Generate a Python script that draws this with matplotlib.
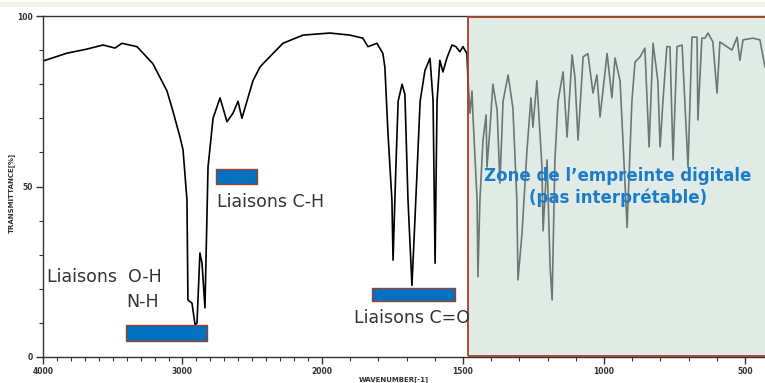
import numpy as np
import matplotlib
matplotlib.use("Agg")
import matplotlib.pyplot as plt
from matplotlib.patches import Rectangle

# IR spectrum: wavenumber (cm-1) and transmittance (%)
wavenumber = [4000, 3828, 3685, 3570, 3484, 3434, 3326, 3212, 3111, 3068, 3018, 2996,
              2968, 2961, 2932, 2910, 2896, 2875, 2860, 2839, 2817, 2781, 2731, 2681,
              2638, 2602, 2574, 2538, 2495, 2445, 2423, 2280, 2136, 1972, 1901, 1855,
              1837, 1805, 1784, 1777, 1766, 1752, 1748, 1738, 1730, 1716, 1706, 1695,
              1681, 1670, 1652, 1635, 1617, 1606, 1599, 1592, 1582, 1571, 1557, 1539,
              1525, 1511, 1500, 1486, 1482, 1475, 1468, 1465, 1450, 1447, 1440, 1429,
              1418, 1415, 1404, 1394, 1379, 1369, 1358, 1340, 1323, 1309, 1305, 1291,
              1273, 1259, 1252, 1238, 1220, 1216, 1202, 1191, 1184, 1174, 1163, 1145,
              1131, 1113, 1103, 1092, 1074, 1057, 1039, 1025, 1014, 989, 972, 961,
              943, 918, 901, 890, 872, 855, 840, 826, 809, 801, 791, 777, 766, 755,
              741, 723, 702, 688, 670, 667, 653, 642, 631, 614, 599, 589, 564, 546,
              528, 518, 507, 472, 447, 429]
transmittance = [86.8, 89.1, 90.3, 91.5, 90.6, 92.0, 91.0, 86.0, 78.0, 72.0, 64.5, 60.7,
                 46.0, 16.7, 15.8, 9.4, 10.0, 30.5, 27.5, 14.4, 55.7, 70.0, 76.0, 69.0,
                 71.5, 75.0, 70.0, 75.0, 81.0, 85.0, 86.0, 92.0, 94.4, 95.0, 94.4, 93.5,
                 91.0, 92.0, 89.0, 85.0, 65.6, 46.0, 28.4, 55.7, 75.0, 80.0, 77.0, 46.0,
                 21.0, 41.0, 75.0, 84.0, 87.6, 75.0, 27.5, 75.0, 87.0, 83.6, 87.7, 91.5,
                 91.0, 89.5, 91.0, 89.0, 81.0, 71.5, 78.0, 71.5, 46.0, 23.5, 46.0, 63.6,
                 71.0, 55.7, 67.4, 80.0, 72.4, 51.0, 75.0, 82.7, 73.0, 46.0, 22.6, 36.0,
                 60.7, 76.0, 67.4, 81.0, 55.7, 37.0, 57.8, 26.4, 16.7, 57.8, 75.0, 83.6,
                 64.5, 88.6, 82.0, 63.6, 88.0, 89.0, 77.4, 82.7, 70.4, 89.0, 76.0, 87.7,
                 81.0, 38.0, 75.0, 86.5, 88.0, 90.6, 61.6, 92.0, 81.0, 61.6, 75.0, 91.0,
                 91.0, 57.8, 91.0, 91.5, 55.7, 93.8, 93.8, 69.5, 93.5, 93.5, 95.0, 92.4,
                 77.4, 92.4, 91.0, 90.0, 93.8, 87.0, 93.0, 93.5, 93.0, 85.0]

# Absorption bands: (wn_high, wn_low, T_low, T_high)
band_oh = (3405, 2824, 4.7, 9.4)
band_ch = (2760, 2466, 50.7, 55.1)
band_co = (1823, 1528, 16.4, 20.2)
fingerprint_start = 1482

x_ticks = [4000, 3000, 2000, 1500, 1000, 500]
y_ticks = [0, 50, 100]

# Standard IR scale: 2000-400 cm-1 stretched by ~2x compared with 4000-2000
STRETCH = 2.0215


def forward(w):
    w = np.asarray(w, dtype=float)
    return np.where(w >= 2000, w, 2000 - (2000 - w) * STRETCH)


def inverse(u):
    u = np.asarray(u, dtype=float)
    return np.where(u >= 2000, u, 2000 - (2000 - u) / STRETCH)


W, H = 765, 383
fig = plt.figure(figsize=(W / 100, H / 100), dpi=100)
fig.patch.set_facecolor("white")
# pale band along the top of the slide
fig.patches.append(Rectangle((0, 1 - 7 / H), 1, 5 / H, transform=fig.transFigure,
                             facecolor="#f4f4e6", edgecolor="none", zorder=0))

ax = fig.add_axes([43 / W, 26 / H, (765 - 43) / W, (357 - 16) / H])
ax.set_xscale("function", functions=(forward, inverse))
ax.set_xlim(4000, 429)
ax.set_ylim(0, 100)

ax.plot(wavenumber, transmittance, color="black", lw=1.2, zorder=2)

# fingerprint region overlay (runs past the right edge of the figure)
ax.add_patch(Rectangle((fingerprint_start, 0), 300 - fingerprint_start, 100,
                       facecolor="#c7dcd3", alpha=0.55, edgecolor="none", zorder=3,
                       clip_on=False))
ax.add_patch(Rectangle((fingerprint_start, 0.15), 300 - fingerprint_start, 99.6,
                       facecolor="none", edgecolor="#a0402a", lw=1.3, zorder=4,
                       clip_on=False))

for hi, lo, t0, t1 in (band_oh, band_ch, band_co):
    ax.add_patch(Rectangle((hi, t0), lo - hi, t1 - t0, facecolor="#0070c0",
                           edgecolor="#a0402a", lw=1.0, zorder=5))

font = "DejaVu Sans"
tc = "#333333"
fs = 12.5
ax.text(3968, 23.6, "Liaisons  O-H", fontsize=fs, family=font, color=tc, va="center", zorder=6)
ax.text(3400, 16.2, "N-H", fontsize=fs, family=font, color=tc, va="center", zorder=6)
ax.text(2750, 45.6, "Liaisons C-H", fontsize=fs, family=font, color=tc, va="center", zorder=6)
ax.text(1887, 11.3, "Liaisons C=O", fontsize=fs, family=font, color=tc, va="center", zorder=6)
ax.text(950, 49.9, "Zone de l\u2019empreinte digitale\n(pas interprétable)", fontsize=12,
        family=font, weight="bold", color="#1c7cc9", ha="center", va="center",
        linespacing=1.25, zorder=6)

# axes styling
ax.spines["right"].set_visible(False)
for s in ("left", "bottom", "top"):
    ax.spines[s].set_color("#333333")
    ax.spines[s].set_linewidth(1.0)

ax.set_xticks(x_ticks)
ax.set_xticklabels([str(v) for v in x_ticks])
minor_x = [v for v in range(3900, 400, -100) if v not in x_ticks]
ax.set_xticks(minor_x, minor=True)
ax.set_yticks(y_ticks)
ax.set_yticks(range(10, 100, 10), minor=True)
ax.tick_params(axis="both", which="major", length=5, width=1, color="#333333",
               labelsize=5.5, labelcolor="#333333", pad=2)
ax.tick_params(axis="both", which="minor", length=3, width=0.8, color="#333333")
for lbl in ax.get_xticklabels() + ax.get_yticklabels():
    lbl.set_fontweight("bold")

ax.set_ylabel("TRANSMITTANCE[%]", fontsize=5, weight="bold", color="#333333")
ax.yaxis.set_label_coords((15 - 43) / (765 - 43), 0.48)
ax.set_xlabel("WAVENUMBER[-1]", fontsize=5, weight="bold", color="#333333")
ax.xaxis.set_label_coords((394 - 43) / (765 - 43), -0.055)

fig.savefig("out.png", dpi=100)
